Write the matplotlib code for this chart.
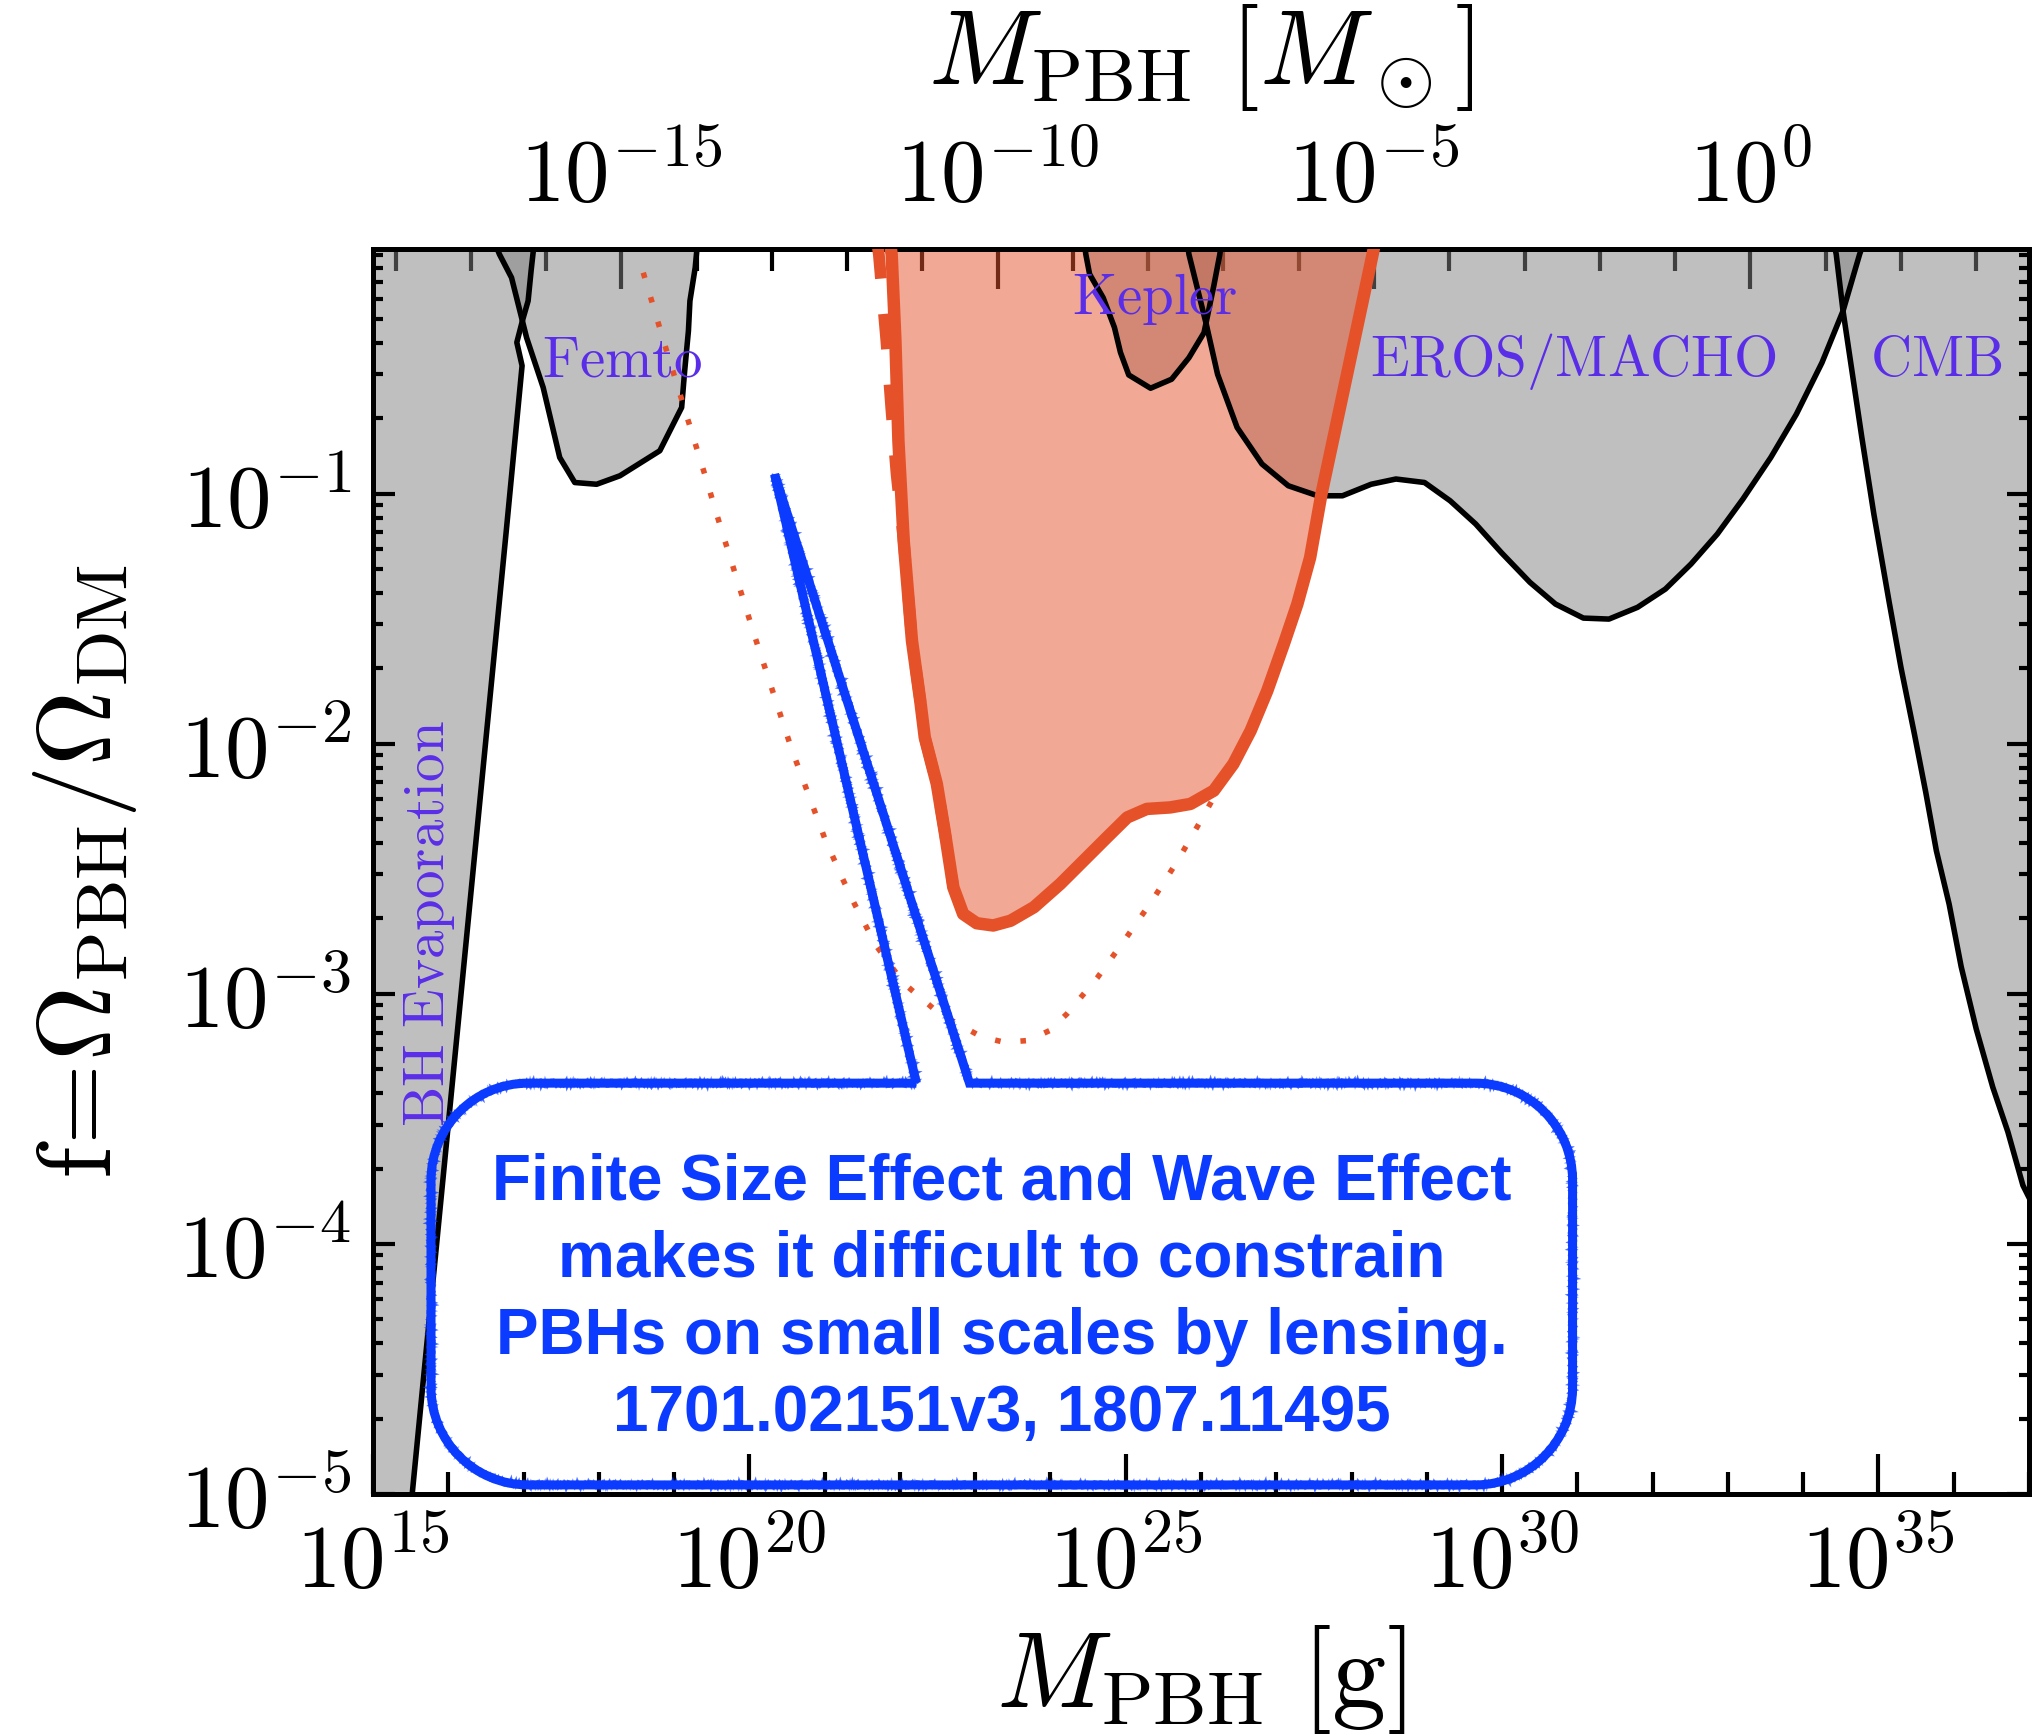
import numpy as np
import matplotlib
matplotlib.use("Agg")
import matplotlib.pyplot as plt
from matplotlib.path import Path
from matplotlib.patches import PathPatch
from matplotlib.ticker import FixedLocator, FuncFormatter, NullFormatter

plt.rcParams['mathtext.fontset'] = 'cm'

RED = "#E5522A"; BLUE = "#0B3BFF"; LAB = "#5A2EE8"
MSUN = 1.989e33

# ---- constraint curves: log10 M [g], log10 f ----
evap_lm = [15.52, 16.77, 16.98, 16.91, 16.99, 17.06, 17.10, 17.14]
evap_lf = [-5.0, -1.149, -0.489, -0.396, -0.303, -0.230, -0.109, 0.0]

femto_lm = [16.62, 16.68, 16.84, 16.95, 17.04, 17.26, 17.48, 17.68, 17.97, 18.28,
            18.81, 19.10, 19.14, 19.19, 19.21, 19.28, 19.31]
femto_lf = [0.0, -0.044, -0.137, -0.269, -0.377, -0.576, -0.856, -0.956, -0.963, -0.929,
            -0.829, -0.656, -0.51, -0.35, -0.23, -0.097, 0.0]

kepler_lm = [24.45, 24.47, 24.52, 24.70, 24.85, 24.93, 25.04, 25.33, 25.61, 25.84,
             26.04, 26.17, 26.25, 26.27]
kepler_lf = [0.0, -0.044, -0.123, -0.217, -0.336, -0.436, -0.526, -0.579, -0.543, -0.457,
             -0.357, -0.170, -0.044, 0.0]

eros_lm = [25.82, 25.84, 26.07, 26.22, 26.48, 26.81, 27.16, 27.55, 27.88, 28.26,
           28.59, 28.97, 29.31, 29.65, 29.99, 30.37, 30.71, 31.08, 31.42, 31.80,
           32.17, 32.51, 32.86, 33.20, 33.57, 33.91, 34.25, 34.53, 34.75, 34.80]
eros_lf = [0.0, -0.044, -0.323, -0.523, -0.736, -0.882, -0.969, -1.009, -1.009, -0.963,
           -0.942, -0.956, -1.029, -1.122, -1.236, -1.355, -1.442, -1.498, -1.502, -1.455,
           -1.382, -1.282, -1.162, -1.022, -0.856, -0.683, -0.477, -0.270, -0.044, 0.0]

cmb_lm = [34.41, 34.44, 34.53, 34.78, 34.94, 35.14, 35.30, 35.48, 35.63, 35.77,
          35.94, 36.10, 36.30, 36.52, 36.72, 36.92, 37.03]
cmb_lf = [0.0, -0.044, -0.270, -0.776, -1.083, -1.429, -1.696, -1.964, -2.196, -2.428,
          -2.642, -2.892, -3.141, -3.374, -3.552, -3.766, -3.832]

hsc_lm = [21.87, 21.89, 21.94, 21.98, 22.05, 22.16, 22.27, 22.33, 22.49, 22.60,
          22.71, 22.84, 23.02, 23.24, 23.47, 23.78, 24.13, 24.44, 24.75, 25.02,
          25.28, 25.59, 25.86, 26.17, 26.43, 26.66, 26.88, 27.10, 27.28, 27.45,
          27.60, 27.95, 28.28, 28.31]
hsc_lf = [0.0, -0.044, -0.390, -0.790, -1.189, -1.589, -1.828, -1.975, -2.161, -2.361,
          -2.575, -2.681, -2.718, -2.727, -2.708, -2.654, -2.561, -2.468, -2.375, -2.295,
          -2.261, -2.255, -2.241, -2.188, -2.081, -1.948, -1.789, -1.602, -1.442, -1.256,
          -1.003, -0.51, -0.044, 0.0]

hscd_lm = [21.70, 21.72, 21.82, 21.885, 21.955, 22.05, 22.16, 22.27, 22.33, 22.49, 22.60, 22.71]
hscd_lf = [0.0, -0.044, -0.39, -0.658, -0.921, -1.189, -1.589, -1.828, -1.975, -2.161, -2.361, -2.575]

dot_lm = [18.59, 18.86, 19.14, 19.42, 19.60, 20.07, 20.56, 21.00, 21.25, 21.39,
          21.68, 22.05, 22.53, 23.09, 23.39, 23.70, 23.99, 24.22, 24.62, 24.99,
          25.35, 25.69, 26.01, 26.17]
dot_lf = [-0.117, -0.390, -0.663, -0.936, -1.117, -1.570, -2.021, -2.378, -2.548, -2.637,
          -2.806, -2.958, -3.081, -3.173, -3.194, -3.187, -3.147, -3.080, -2.937, -2.783,
          -2.628, -2.468, -2.301, -2.215]

# region labels: text, log10 M, log10 f (baseline)
labels = [("Femto", 17.24, -0.533), ("Kepler", 24.29, -0.281),
          ("EROS/MACHO", 28.25, -0.530), ("CMB", 34.89, -0.530)]

note = ["Finite Size Effect and Wave Effect", "makes it difficult to constrain",
        "PBHs on small scales by lensing.", "1701.02151v3, 1807.11495"]

P = lambda a: 10.0 ** np.asarray(a)
FTOP = 1.0

fig = plt.figure(figsize=(20.33, 17.35), dpi=100)
ax = fig.add_axes([0.1835, 0.1389, 0.8145, 0.7176])
ax.set_xscale("log"); ax.set_yscale("log")
ax.set_xlim(1e15, 1e37); ax.set_ylim(1e-5, 0.95)

# grey excluded regions
ax.fill_betweenx(P(evap_lf), P(evap_lm), 1e15, color="gray", alpha=0.5, lw=0, zorder=1)
ax.plot(P(evap_lm), P(evap_lf), color="k", lw=4, zorder=3)
for lm, lf in [(femto_lm, femto_lf), (kepler_lm, kepler_lf), (eros_lm, eros_lf), (cmb_lm, cmb_lf)]:
    ax.fill_between(P(lm), P(lf), FTOP, color="gray", alpha=0.5, lw=0, zorder=1)
    ax.plot(P(lm), P(lf), color="k", lw=4, zorder=3)

# red constraint
ax.fill_between(P(hsc_lm), P(hsc_lf), FTOP, color=RED, alpha=0.5, lw=0, zorder=2)
ax.plot(P(dot_lm), P(dot_lf), color=RED, lw=4, dashes=(1, 3.6), zorder=3)
ax.plot(P(hscd_lm), P(hscd_lf), color=RED, lw=8.5, dashes=(3, 3), zorder=4)
ax.plot(P(hsc_lm), P(hsc_lf), color=RED, lw=9, zorder=5, solid_capstyle="butt")

for t, lm, lf in labels:
    ax.text(10**lm, 10**lf, r"$\mathrm{%s}$" % t, color=LAB, fontsize=41, ha="left", va="baseline", zorder=6)
ax.text(10**15.75, 10**-2.718, r"$\mathrm{BH\ Evaporation}$", color=LAB, fontsize=41,
        rotation=90, ha="center", va="center", zorder=6)

# callout box (axes fraction)
L, R, B, T = 0.035, 0.7244, 0.0073, 0.330
xl, xr, tip = 0.3281, 0.3602, (0.2425, 0.8190)
rx, ry, k = 0.0587, 0.078, 0.5523
verts = [(xl, T), tip, (xr, T), (R - rx, T),
         (R - rx + k * rx, T), (R, T - ry + k * ry), (R, T - ry),
         (R, B + ry),
         (R, B + ry - k * ry), (R - rx + k * rx, B), (R - rx, B),
         (L + rx, B),
         (L + rx - k * rx, B), (L, B + ry - k * ry), (L, B + ry),
         (L, T - ry),
         (L, T - ry + k * ry), (L + rx - k * rx, T), (L + rx, T),
         (xl, T)]
C4 = Path.CURVE4
codes = [Path.MOVETO, Path.LINETO, Path.LINETO, Path.LINETO, C4, C4, C4, Path.LINETO,
         C4, C4, C4, Path.LINETO, C4, C4, C4, Path.LINETO, C4, C4, C4, Path.LINETO]
callout = Path(verts, codes)
p1 = PathPatch(callout, transform=ax.transAxes, fill=False, ec=BLUE, lw=6.5, joinstyle="miter", zorder=7, clip_on=False)
ax.add_patch(p1)
for sc, a in [(3, 0.7), (2, 0.5)]:
    p2 = PathPatch(callout, transform=ax.transAxes, fill=False, ec=BLUE, lw=2.5, alpha=a, zorder=7, clip_on=False)
    p2.set_sketch_params(scale=sc, length=4, randomness=4)
    ax.add_patch(p2)
for i, s in enumerate(note):
    ax.text(0.3799, 0.25 - i * 0.0618, s, transform=ax.transAxes, ha="center", va="center",
            fontsize=46, fontweight="bold", family="Liberation Sans", color=BLUE, zorder=8)

# axes / ticks
fmt = FuncFormatter(lambda v, p: r"$10^{%d}$" % round(np.log10(v)))
ax.xaxis.set_major_locator(FixedLocator(P(np.arange(15, 40, 5))))
ax.xaxis.set_minor_locator(FixedLocator(P(np.arange(15, 38))))
ax.xaxis.set_major_formatter(fmt); ax.xaxis.set_minor_formatter(NullFormatter())
ax.yaxis.set_major_locator(FixedLocator(P(np.arange(-5, 0))))
ax.yaxis.set_minor_locator(FixedLocator([m * 10.0**e for e in range(-5, 0) for m in range(2, 10)]))
ax.yaxis.set_major_formatter(fmt); ax.yaxis.set_minor_formatter(NullFormatter())
ax.tick_params(axis="x", which="major", direction="in", length=29, width=3, top=False, labelsize=64, pad=19)
ax.tick_params(axis="x", which="minor", direction="in", length=15.5, width=3, top=False)
ax.tick_params(axis="y", which="major", direction="in", length=15.5, width=3, right=True, labelsize=64, pad=16)
ax.tick_params(axis="y", which="minor", direction="in", length=7.5, width=3, right=True)
for s in ax.spines.values():
    s.set_linewidth(3.6)

secax = ax.secondary_xaxis("top", functions=(lambda m: m / MSUN, lambda s: s * MSUN))
secax.set_xticks(P(np.arange(-15, 5, 5)))
secax.xaxis.set_minor_locator(FixedLocator(P(np.arange(-18, 4))))
secax.xaxis.set_major_formatter(fmt); secax.xaxis.set_minor_formatter(NullFormatter())
secax.tick_params(which="major", direction="in", length=29, width=3, labelsize=64, pad=20)
secax.tick_params(which="minor", direction="in", length=15.5, width=3)
secax.spines["top"].set_linewidth(3.6)
secax.set_xlabel(r"$M_{\rm PBH}\ [M_\odot]$", fontsize=77, labelpad=36)

ax.set_xlabel(r"$M_{\rm PBH}\ [{\rm g}]$", fontsize=78, labelpad=11)
ax.set_ylabel(r"${\rm f}\!=\!\Omega_{\rm PBH}/\Omega_{\rm DM}$", fontsize=75, labelpad=28)

fig.savefig("out.png", dpi=100)
